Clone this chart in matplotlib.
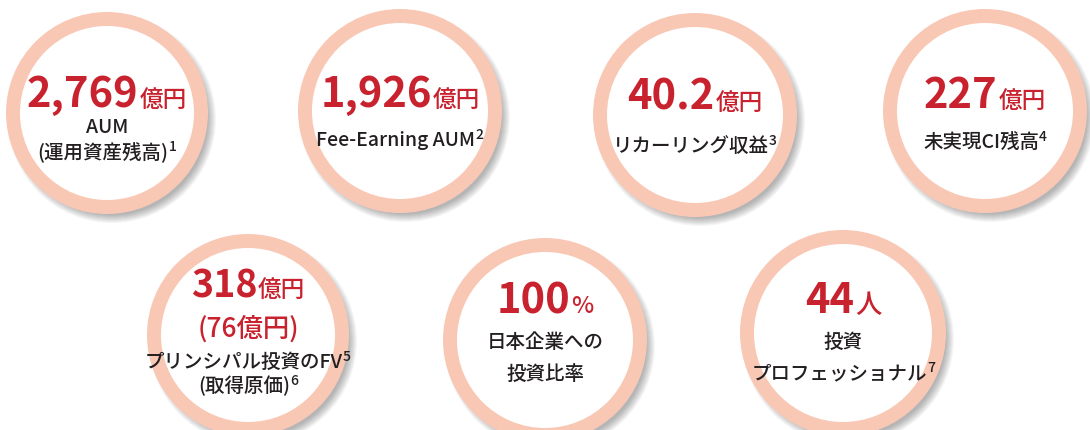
import matplotlib
matplotlib.use("Agg")
import matplotlib.pyplot as plt
from matplotlib.patches import Circle

plt.rcParams['font.family'] = ['Noto Sans CJK JP', 'DejaVu Sans']

# ---- data ----
values = ["2,769", "1,926", "40.2", "227", "318", "100", "44"]
units = ["億円", "億円", "億円", "億円", "億円", "%", "人"]
sub_values = ["", "", "", "", "(76億円)", "", ""]
label_lines = [
    [("AUM", ""), ("(運用資産残高)", "1")],
    [("Fee-Earning AUM", "2")],
    [("リカーリング収益", "3")],
    [("未実現CI残高", "4")],
    [("プリンシパル投資のFV", "5"), ("(取得原価)", "6")],
    [("日本企業への", ""), ("投資比率", "")],
    [("投資", ""), ("プロフェッショナル", "7")],
]

# ---- layout (pixels) ----
centers = [(107, 113), (400, 111), (695, 115), (985, 111),
           (248, 335), (545, 340), (843, 333)]
radii = [101, 102, 102, 102, 101, 102, 103]
num_base = [107, 107, 110, 108, 297, 313, 313]
num_size = [30, 30, 30, 30, 27, 30, 30]
unit_size = [17, 17, 17, 17, 17, 17, 19]
sub_base = [None, None, None, None, 337, None, None]
label_base = [[133, 158], [146], [152], [148], [368, 392], [348, 380], [348, 379]]

RING = '#F9C8B5'
RED = '#C9222F'
DARK = '#231F20'

W, H = 1090, 430
fig = plt.figure(figsize=(W / 100, H / 100), dpi=100)
ax = fig.add_axes([0, 0, 1, 1])
ax.set_xlim(0, W)
ax.set_ylim(H, 0)
ax.axis('off')
fig.patch.set_facecolor('white')

renderer = fig.canvas.get_renderer()


def place_row(parts, cx, base):
    """parts: list of (text, size, color, weight, dy, gap_before)"""
    texts = []
    widths = []
    for (s, size, color, weight, dy, gap) in parts:
        t = ax.text(0, base + dy, s, fontsize=size, color=color,
                    fontweight=weight, ha='left', va='baseline', zorder=10)
        texts.append(t)
        widths.append(t.get_window_extent(renderer).width)
    total = sum(widths) + sum(p[5] for p in parts)
    x = cx - total / 2
    for t, w, p in zip(texts, widths, parts):
        x += p[5]
        t.set_x(x)
        x += w


for i in range(len(values)):
    cx, cy = centers[i]
    R = radii[i]
    # soft shadow toward lower right
    for k in range(9):
        ax.add_patch(Circle((cx + 5, cy + 6), R - 5 + k, facecolor='black',
                            edgecolor='none', alpha=0.035, zorder=1))
    ax.add_patch(Circle((cx, cy), R, facecolor=RING, edgecolor='none', zorder=2))
    ax.add_patch(Circle((cx, cy), R - 14, facecolor='white', edgecolor='none', zorder=3))

    place_row([(values[i], num_size[i], RED, 'bold', 0, 0),
               (units[i], unit_size[i], RED, 'medium', 0, 1)], cx, num_base[i])
    if sub_values[i]:
        place_row([(sub_values[i], 19, RED, 'medium', 0, 0)], cx, sub_base[i])
    for (txt, sup), b in zip(label_lines[i], label_base[i]):
        parts = [(txt, 14, DARK, 'medium', 0, 0)]
        if sup:
            parts.append((sup, 10, DARK, 'medium', -7, 0))
        place_row(parts, cx, b)

fig.savefig('out.png', dpi=100, facecolor='white')
